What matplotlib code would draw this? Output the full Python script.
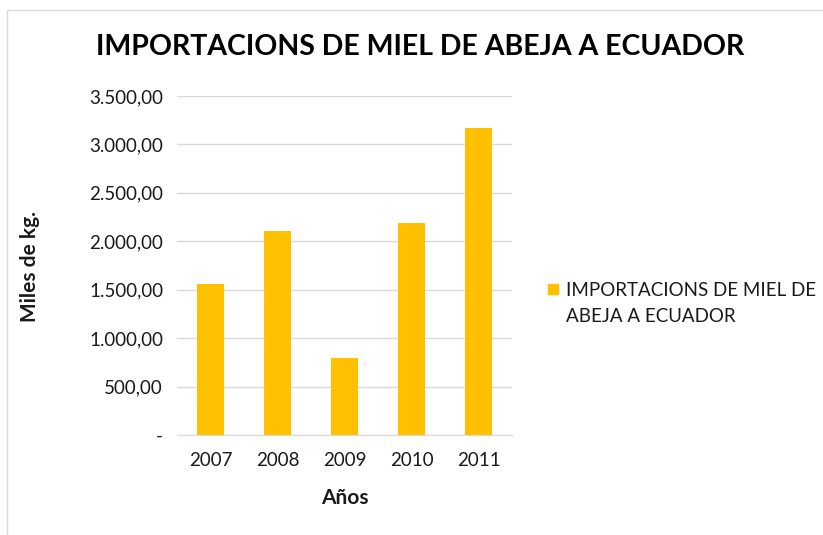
import matplotlib.pyplot as plt
from matplotlib.patches import Rectangle
from matplotlib.ticker import FuncFormatter

plt.rcParams["font.family"] = ["Lato", "DejaVu Sans"]

years = ["2007", "2008", "2009", "2010", "2011"]
imports = [1562.0, 2109.0, 791.0, 2185.0, 3173.0]
y_ticks = [0, 500, 1000, 1500, 2000, 2500, 3000, 3500]

TITLE = "IMPORTACIONS DE MIEL DE ABEJA A ECUADOR"
BAR_COLOR = "#FFC000"
TXT = "#1a1a1a"


def fmt_es(v, _pos=None):
    if v == 0:
        return "-"
    s = f"{v:,.2f}"
    return s.replace(",", "X").replace(".", ",").replace("X", ".")


fig = plt.figure(figsize=(8.23, 5.35), dpi=100)
W, H = 823, 535
ax = fig.add_axes([177 / W, 1 - 435 / H, 335 / W, 339 / H])

x = range(len(years))
ax.bar(x, imports, width=0.39, color=BAR_COLOR, zorder=3)
ax.set_xlim(-0.5, len(years) - 0.5)
ax.set_ylim(0, 3500)
ax.set_yticks(y_ticks)
ax.yaxis.set_major_formatter(FuncFormatter(fmt_es))
ax.set_xticks(list(x))
ax.set_xticklabels(years)
ax.grid(axis="y", color="#d9d9d9", lw=1, zorder=0)
for side in ("top", "right", "left"):
    ax.spines[side].set_visible(False)
ax.spines["bottom"].set_color("#d9d9d9")
ax.tick_params(length=0, labelsize=13.5, colors=TXT, pad=12)
ax.tick_params(axis="y", pad=10)

ax.set_xlabel("Años", fontsize=15, fontweight="bold", color=TXT, labelpad=14)
fig.text(30 / W, 1 - 266 / H, "Miles de kg.", rotation=90, ha="center", va="center",
         fontsize=15, fontweight="bold", color=TXT)
fig.text(420 / W, 1 - 47 / H, TITLE, ha="center", va="center",
         fontsize=20.5, fontweight="bold", color="#000000")

# legend
fig.patches.append(Rectangle((548 / W, 1 - 294 / H), 10 / W, 10 / H,
                             transform=fig.transFigure, color=BAR_COLOR))
fig.text(566 / W, 1 - 291 / H, "IMPORTACIONS DE MIEL DE", ha="left", va="center",
         fontsize=13.5, color=TXT)
fig.text(566 / W, 1 - 317 / H, "ABEJA A ECUADOR", ha="left", va="center",
         fontsize=13.5, color=TXT)

# chart area border
fig.patches.append(Rectangle((7 / W, -0.1), 1.0, 1 - 10 / H + 0.1,
                             transform=fig.transFigure, fill=False,
                             edgecolor="#d9d9d9", lw=1))

fig.savefig("out.png", dpi=100)
